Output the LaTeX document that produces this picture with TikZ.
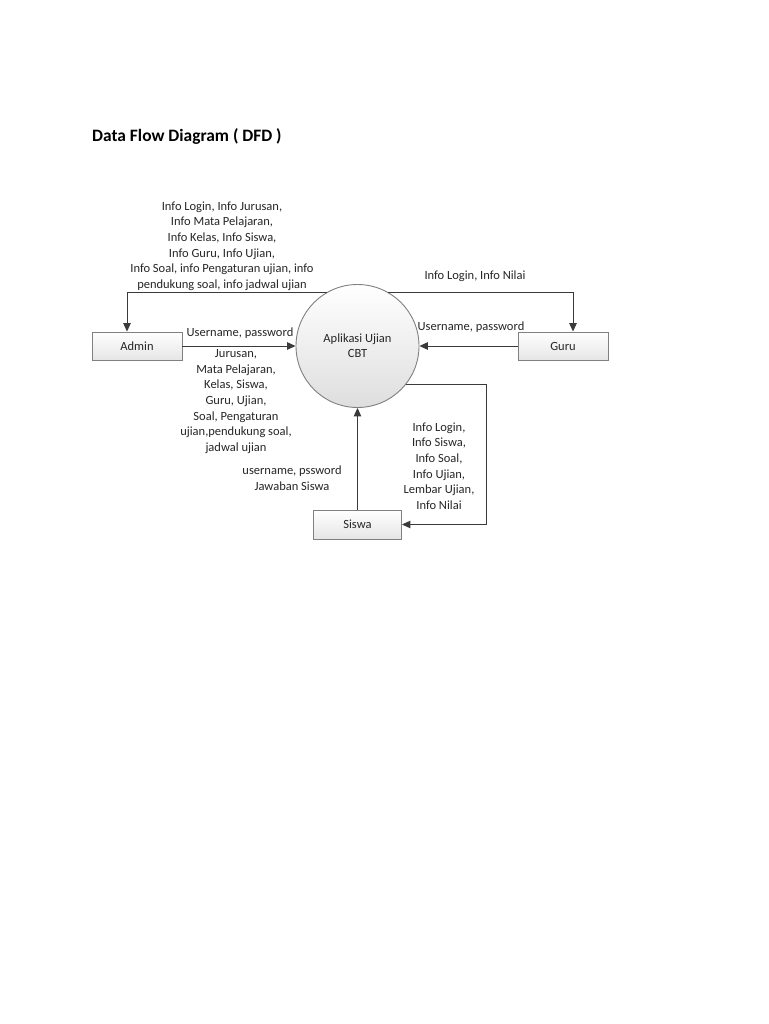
\documentclass[tikz,border=0pt]{standalone}
\usepackage{fontspec}
\setmainfont{Carlito}
\usetikzlibrary{arrows.meta,calc}
\definecolor{txt}{HTML}{262626}
\definecolor{ln}{HTML}{3A3A3A}
\definecolor{bd}{HTML}{808080}
\tikzset{
  entity/.style={draw=bd, line width=0.9pt, top color=white, bottom color=black!10, minimum width=90pt, minimum height=28pt, inner sep=0pt, text=txt, font=\fontsize{12.5}{15.5}\selectfont},
  proc/.style={circle, draw=bd, line width=0.9pt, top color=white, bottom color=black!13, minimum size=123pt, inner sep=0pt, align=center, text=txt, font=\fontsize{12.5}{15}\selectfont},
  flow/.style={draw=ln, line width=1pt, -{Triangle[length=8.5pt,width=7.5pt]}},
  lbl/.style={align=center, text=txt, inner sep=0pt, font=\fontsize{12.5}{15.6}\selectfont},
}
\begin{document}
\begin{tikzpicture}[x=1pt,y=-1pt]
\useasboundingbox[fill=white] (0,0) rectangle (768,1024);
\node[anchor=base west, text=black, inner sep=0pt, font=\fontsize{17.4}{20}\selectfont\bfseries] (title) at (92,142) {Data Flow Diagram ( DFD )};
\node[proc] (cbt) at (357.5,346) {Aplikasi Ujian\\CBT};
\node[entity] (admin) at (137,346) {Admin};
\node[entity] (guru) at (563,346) {Guru};
\node[entity, minimum width=88pt, minimum height=29pt] (siswa) at (357.5,524.5) {Siswa};
\coordinate (adin) at ([xshift=-10pt]admin.north);
\coordinate (guin) at ([xshift=10pt]guru.north);
\coordinate (s1) at (486,524.5);
\draw[flow] (cbt.120) -| (adin);
\draw[flow] (cbt.60) -| (guin);
\draw[flow] (admin.east) -- (cbt.west);
\draw[flow] (guru.west) -- (cbt.east);
\draw[flow] (siswa.north) -- (cbt.south);
\draw[flow] (cbt.-38) -| (s1) -- (siswa.east);
\node[lbl] (l1) at (222,246) {Info Login, Info Jurusan,\\Info Mata Pelajaran,\\Info Kelas, Info Siswa,\\Info Guru, Info Ujian,\\Info Soal, info Pengaturan ujian, info\\pendukung soal, info jadwal ujian};
\node[lbl] (l2) at (475,276) {Info Login, Info Nilai};
\node[lbl] (l3) at (240,333) {Username, password};
\node[lbl] (l4) at (471,327) {Username, password};
\node[lbl] (l5) at (236,401.5) {Jurusan,\\Mata Pelajaran,\\Kelas, Siswa,\\Guru, Ujian,\\Soal, Pengaturan\\ujian,pendukung soal,\\jadwal ujian};
\node[lbl] (l6) at (292,478) {username, pssword\\Jawaban Siswa};
\node[lbl] (l7) at (439,466) {Info Login,\\Info Siswa,\\Info Soal,\\Info Ujian,\\Lembar Ujian,\\Info Nilai};
\end{tikzpicture}
\end{document}
